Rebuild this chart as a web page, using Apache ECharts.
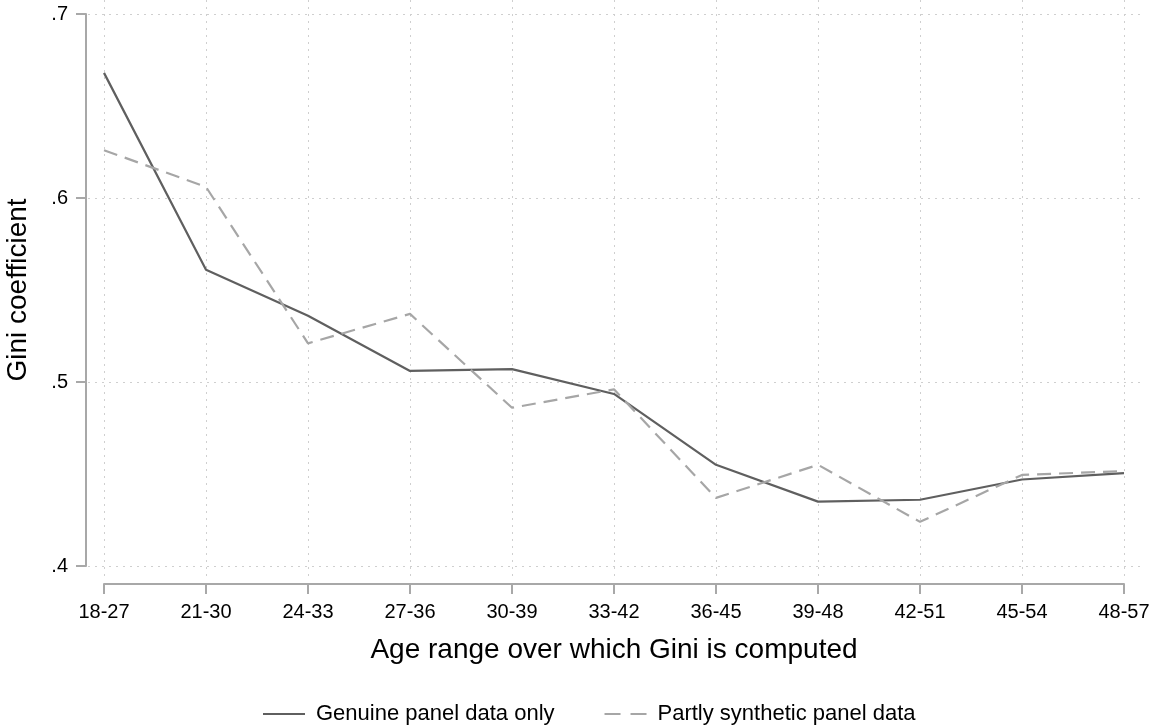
<!DOCTYPE html>
<html><head><meta charset="utf-8">
<script src="https://cdn.jsdelivr.net/npm/echarts@6/dist/echarts.min.js"></script>
<style>html,body{margin:0;padding:0;background:#fff}#c{width:1149px;height:727px}</style>
</head><body><div id="c"></div>
<script>
const categories = ['18-27','21-30','24-33','27-36','30-39','33-42','36-45','39-48','42-51','45-54','48-57'];
const genuine = [0.668,0.561,0.536,0.506,0.507,0.4935,0.455,0.435,0.436,0.447,0.4505];
const synthetic = [0.626,0.606,0.521,0.537,0.486,0.496,0.437,0.455,0.424,0.4495,0.4516];
const yTicks = [0.4,0.5,0.6,0.7];
const seriesNames = ['Genuine panel data only','Partly synthetic panel data'];
const F = 'Liberation Sans, Arial, sans-serif';
const chart = echarts.init(document.getElementById('c'));
const dotted = {show:true,lineStyle:{color:'#cfcfcf',type:[2,5],width:1}};
chart.setOption({
  animation:false,
  grid:[
    {left:104,right:25,top:14,bottom:161,containLabel:false,outerBoundsMode:'none'},
    {left:88,right:8,top:14,bottom:161,containLabel:false,outerBoundsMode:'none'},
    {left:104,right:25,top:0,bottom:149,containLabel:false,outerBoundsMode:'none'}
  ],
  xAxis:[
    {gridIndex:0,type:'category',data:categories,boundaryGap:false,offset:18,
     axisLine:{lineStyle:{color:'#a8a8a8',width:2}},
     axisTick:{length:10,lineStyle:{color:'#a8a8a8',width:2}},
     axisLabel:{color:'#000',fontSize:20,fontFamily:F,margin:18},
     splitLine:{show:false},
     name:'Age range over which Gini is computed',nameLocation:'middle',nameGap:52,
     nameTextStyle:{color:'#000',fontSize:28,fontFamily:F}},
    {gridIndex:1,type:'value',show:false},
    {gridIndex:2,type:'category',data:categories,boundaryGap:false,
     axisLine:{show:false},axisTick:{show:false},axisLabel:{show:false},
     splitLine:dotted}
  ],
  yAxis:[
    {gridIndex:0,type:'value',min:yTicks[0],max:yTicks[yTicks.length-1],interval:0.1,offset:18,
     axisLine:{show:true,lineStyle:{color:'#a8a8a8',width:2}},
     axisTick:{show:true,length:10,lineStyle:{color:'#a8a8a8',width:2}},
     axisLabel:{color:'#000',fontSize:20,fontFamily:F,margin:18,formatter:v=>String(+v.toFixed(1)).replace(/^0/,'')},
     splitLine:{show:false},
     name:'Gini coefficient',nameLocation:'middle',nameGap:54,nameRotate:90,
     nameTextStyle:{color:'#000',fontSize:28,fontFamily:F}},
    {gridIndex:1,type:'value',min:yTicks[0],max:yTicks[yTicks.length-1],interval:0.1,
     axisLine:{show:false},axisTick:{show:false},axisLabel:{show:false},splitLine:dotted},
    {gridIndex:2,type:'value',show:false}
  ],
  legend:{top:698,left:258,itemGap:50,itemWidth:42,itemHeight:2,
    textStyle:{color:'#000',fontSize:22,fontFamily:F,padding:[0,0,0,6]},
    data:[{name:seriesNames[0],icon:'path://M0,0H42V2H0Z'},{name:seriesNames[1],icon:'path://M0,0H16V2H0ZM26,0H42V2H26Z'}]},
  series:[
    {name:seriesNames[0],type:'line',xAxisIndex:0,yAxisIndex:0,data:genuine,showSymbol:false,
     lineStyle:{color:'#5f5f5f',width:2.2},itemStyle:{color:'#5f5f5f'}},
    {name:seriesNames[1],type:'line',xAxisIndex:0,yAxisIndex:0,data:synthetic,showSymbol:false,
     lineStyle:{color:'#a6a6a6',width:2.2,type:[14,8]},itemStyle:{color:'#a6a6a6'}}
  ]
});
</script></body></html>
